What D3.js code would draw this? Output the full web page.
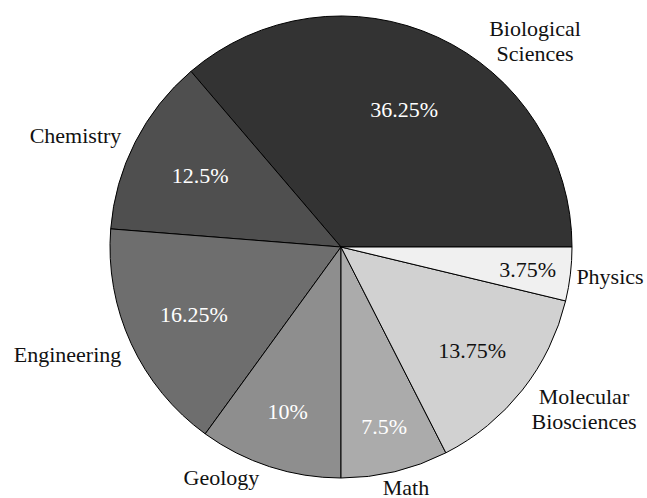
<!DOCTYPE html>
<html>
<head>
<meta charset="utf-8">
<script src="https://cdn.jsdelivr.net/npm/d3@7"></script>
</head>
<body style="margin:0">
<svg id="s" width="647" height="498"></svg>
<script>
// ---- data ----
const categories = ["Biological Sciences", "Chemistry", "Engineering", "Geology", "Math", "Molecular Biosciences", "Physics"];
const values = [36.25, 12.5, 16.25, 10, 7.5, 13.75, 3.75];
const pctLabels = ["36.25%", "12.5%", "16.25%", "10%", "7.5%", "13.75%", "3.75%"];
const labelLines = [["Biological", "Sciences"], ["Chemistry"], ["Engineering"], ["Geology"], ["Math"], ["Molecular", "Biosciences"], ["Physics"]];

// ---- style / layout ----
const F = '"Liberation Serif"';
const colors = ["#333333", "#4f4f4f", "#6e6e6e", "#8e8e8e", "#ababab", "#d1d1d1", "#f0f0f0"];
const pctColors = ["#ffffff", "#ffffff", "#ffffff", "#ffffff", "#ffffff", "#111111", "#111111"];
const pctRadius = [151, 158, 162, 173, 185, 167, 188];
const labelOffsets = [[194, -211], [-265.5, -104], [-273.5, 115], [-119.5, 238], [65, 248], [243, 157], [269, 37]];
const lineHeight = 25;

const cx = 341, cy = 247, R = 231;

const s = d3.select("#s");

const pie = d3.pie().sort(null).value(d => d)
  .startAngle(Math.PI / 2).endAngle(Math.PI / 2 - 2 * Math.PI);
const arcs = pie(values);
const arc = d3.arc().innerRadius(0).outerRadius(R);

arcs.forEach((d, i) => {
  s.append("path")
    .attr("transform", `translate(${cx},${cy})`)
    .attr("d", arc(d))
    .attr("fill", colors[i])
    .attr("stroke", "#000")
    .attr("stroke-width", 1)
    .attr("stroke-linejoin", "round");
});

arcs.forEach((d, i) => {
  const c = d3.arc().innerRadius(pctRadius[i]).outerRadius(pctRadius[i]).centroid(d);
  s.append("text")
    .attr("x", cx + c[0]).attr("y", cy + c[1] + 7.5)
    .attr("font-size", 22)
    .style("font-family", F)
    .attr("text-anchor", "middle")
    .attr("fill", pctColors[i])
    .text(pctLabels[i]);
});

categories.forEach((name, i) => {
  labelLines[i].forEach((line, j) => {
    s.append("text")
      .attr("x", cx + labelOffsets[i][0])
      .attr("y", cy + labelOffsets[i][1] + j * lineHeight)
      .attr("font-size", 22)
      .style("font-family", F)
      .attr("text-anchor", "middle")
      .attr("fill", "#111")
      .text(line);
  });
});
</script>
</body>
</html>
